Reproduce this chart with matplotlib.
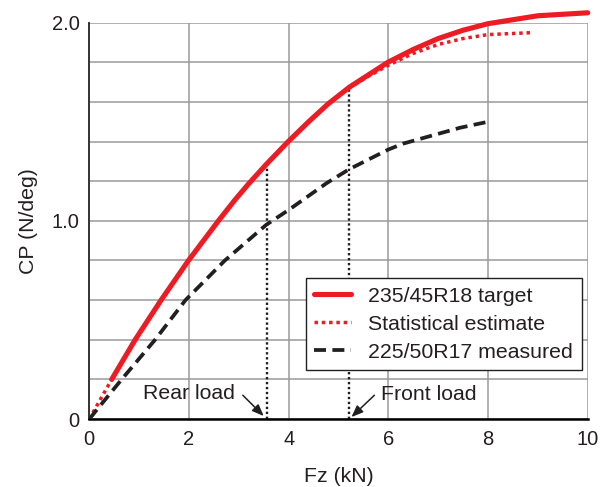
import numpy as np
import matplotlib
matplotlib.use("Agg")
import matplotlib.pyplot as plt

# cornering power vs vertical load
target_fz = [0.45, 0.92, 1.44, 1.99, 2.59, 2.92, 3.19, 3.55, 3.99, 4.40, 4.79, 5.22,
             5.99, 6.50, 7.0, 7.5, 8.0, 9.0, 10.0]
target_cp = [0.20, 0.40, 0.60, 0.80, 1.00, 1.105, 1.185, 1.285, 1.40, 1.50, 1.59, 1.675,
             1.80, 1.865, 1.92, 1.962, 1.995, 2.035, 2.05]

estimate_fz = [0.0, 0.45, 0.92, 1.44, 1.99, 2.59, 2.92, 3.19, 3.55, 3.99, 4.40, 4.79,
               5.22, 5.60, 6.0, 6.5, 7.0, 7.5, 8.0, 8.9]
estimate_cp = [0.0, 0.20, 0.40, 0.60, 0.80, 1.00, 1.105, 1.185, 1.285, 1.40, 1.50, 1.59,
               1.672, 1.73, 1.785, 1.845, 1.89, 1.92, 1.94, 1.95]

measured_fz = [0.0, 0.65, 1.32, 1.93, 2.72, 3.55, 4.0, 4.76, 5.21, 6.0, 6.3, 7.44, 8.0]
measured_cp = [0.0, 0.20, 0.40, 0.60, 0.80, 0.98, 1.055, 1.19, 1.26, 1.36, 1.39, 1.47, 1.50]

series_labels = ["235/45R18 target", "Statistical estimate", "225/50R17 measured"]

rear_load = 3.56
front_load = 5.22

x_ticks = [0, 2, 4, 6, 8, 10]
y_ticks = [0, 0.2, 0.4, 0.6, 0.8, 1.0, 1.2, 1.4, 1.6, 1.8, 2.0]
y_tick_labels = ["0", "", "", "", "", "1.0", "", "", "", "", "2.0"]

RED = "#ed1c24"
DARK = "#231f20"
FS_TICK = 14.5
FS = 15.3

plt.rcParams["font.family"] = ["Liberation Sans", "DejaVu Sans"]

fig = plt.figure(figsize=(6.07, 4.87), dpi=100)
ax = fig.add_axes([0.1471, 0.1396, 0.8211, 0.8138])

ax.plot(estimate_fz, estimate_cp, color=RED, lw=2.5, linestyle=(0, (1, 1.1)),
        dash_capstyle="butt", label=series_labels[1], zorder=3)
ax.plot(target_fz, target_cp, color=RED, lw=3.7, solid_capstyle="round",
        solid_joinstyle="round", label=series_labels[0], clip_on=False, zorder=4)
ax.plot(measured_fz, measured_cp, color=DARK, lw=2.7, linestyle=(0, (3.2, 1.7)),
        label=series_labels[2], zorder=3)

# load markers, topped at the target curve
for load in (rear_load, front_load):
    top = np.interp(load, target_fz, target_cp)
    ax.plot([load, load], [0, top], color=DARK, lw=1.7,
            linestyle=(0, (1, 1.1)), zorder=2)

arrow = dict(arrowstyle="-|>,head_length=0.7,head_width=0.28", color=DARK,
             lw=1.1, shrinkA=0, shrinkB=0)
ax.annotate("", xy=(rear_load - 0.06, 0.015), xytext=(3.08, 0.12), arrowprops=arrow)
ax.text(2.93, 0.13, "Rear load", ha="right", va="center", fontsize=FS, color=DARK)
ax.annotate("", xy=(front_load + 0.04, 0.01), xytext=(5.72, 0.12), arrowprops=arrow)
ax.text(5.85, 0.126, "Front load", ha="left", va="center", fontsize=FS, color=DARK)

ax.set_xlim(0, 10)
ax.set_ylim(0, 2.0)
ax.set_xticks(x_ticks)
ax.set_xticklabels([str(t) for t in x_ticks])
ax.set_yticks(y_ticks)
ax.set_yticklabels(y_tick_labels)
ax.tick_params(length=0, labelsize=FS_TICK, colors=DARK)
ax.tick_params(axis="x", pad=8)
ax.tick_params(axis="y", pad=7)
ax.grid(True, color="#9a9a9a", lw=1.1, zorder=0)
ax.set_axisbelow(True)

for side in ("top", "right"):
    ax.spines[side].set_visible(False)
ax.spines["left"].set_color("#333333")
ax.spines["left"].set_linewidth(1.4)
ax.spines["bottom"].set_color("black")
ax.spines["bottom"].set_linewidth(1.8)

ax.set_xlabel("Fz (kN)", fontsize=FS, color=DARK, labelpad=13)
ax.set_ylabel("CP (N/deg)", fontsize=FS, color=DARK, labelpad=10)

handles, labels = ax.get_legend_handles_labels()
order = [labels.index(s) for s in series_labels]
leg = ax.legend([handles[i] for i in order], [labels[i] for i in order],
                loc="upper right", bbox_to_anchor=(0.988, 0.355),
                borderaxespad=0, fontsize=FS, fancybox=False, framealpha=1,
                edgecolor=DARK, handlelength=1.75, handletextpad=0.8,
                labelspacing=0.42, borderpad=0.4)
leg.get_frame().set_linewidth(1.0)
for t in leg.get_texts():
    t.set_color(DARK)

fig.savefig("out.png", dpi=100)
